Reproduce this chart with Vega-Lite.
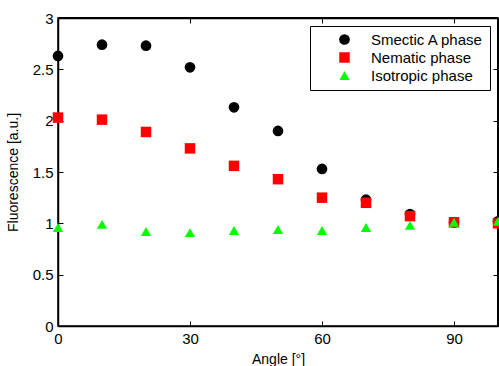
{
  "$schema": "https://vega.github.io/schema/vega-lite/v6.json",
  "width": 440,
  "height": 308,
  "autosize": {"type": "none"},
  "padding": {"left": 58, "top": 18, "right": 1, "bottom": 40},
  "background": "white",
  "config": {
    "view": {"stroke": "black", "strokeWidth": 1.5, "fill": "white"},
    "font": "Liberation Sans",
    "axis": {"grid": false, "domainColor": "black", "tickColor": "black", "labelColor": "black", "titleColor": "black", "labelFontSize": 15, "titleFontSize": 14, "titleFontWeight": "normal", "tickSize": -5, "labelPadding": 10, "labelFlush": false, "domainWidth": 1.5, "tickWidth": 1}
  },
  "data": {"values": [
    {"angle": 0, "f": 2.63, "phase": "Smectic A phase"},
    {"angle": 10, "f": 2.74, "phase": "Smectic A phase"},
    {"angle": 20, "f": 2.73, "phase": "Smectic A phase"},
    {"angle": 30, "f": 2.52, "phase": "Smectic A phase"},
    {"angle": 40, "f": 2.13, "phase": "Smectic A phase"},
    {"angle": 50, "f": 1.9, "phase": "Smectic A phase"},
    {"angle": 60, "f": 1.53, "phase": "Smectic A phase"},
    {"angle": 70, "f": 1.23, "phase": "Smectic A phase"},
    {"angle": 80, "f": 1.09, "phase": "Smectic A phase"},
    {"angle": 90, "f": 1.01, "phase": "Smectic A phase"},
    {"angle": 100, "f": 1.02, "phase": "Smectic A phase"},
    {"angle": 0, "f": 2.03, "phase": "Nematic phase"},
    {"angle": 10, "f": 2.01, "phase": "Nematic phase"},
    {"angle": 20, "f": 1.89, "phase": "Nematic phase"},
    {"angle": 30, "f": 1.73, "phase": "Nematic phase"},
    {"angle": 40, "f": 1.56, "phase": "Nematic phase"},
    {"angle": 50, "f": 1.43, "phase": "Nematic phase"},
    {"angle": 60, "f": 1.25, "phase": "Nematic phase"},
    {"angle": 70, "f": 1.2, "phase": "Nematic phase"},
    {"angle": 80, "f": 1.07, "phase": "Nematic phase"},
    {"angle": 90, "f": 1.01, "phase": "Nematic phase"},
    {"angle": 100, "f": 1.0, "phase": "Nematic phase"},
    {"angle": 0, "f": 0.96, "phase": "Isotropic phase"},
    {"angle": 10, "f": 0.99, "phase": "Isotropic phase"},
    {"angle": 20, "f": 0.92, "phase": "Isotropic phase"},
    {"angle": 30, "f": 0.91, "phase": "Isotropic phase"},
    {"angle": 40, "f": 0.93, "phase": "Isotropic phase"},
    {"angle": 50, "f": 0.94, "phase": "Isotropic phase"},
    {"angle": 60, "f": 0.93, "phase": "Isotropic phase"},
    {"angle": 70, "f": 0.96, "phase": "Isotropic phase"},
    {"angle": 80, "f": 0.98, "phase": "Isotropic phase"},
    {"angle": 90, "f": 1.01, "phase": "Isotropic phase"},
    {"angle": 100, "f": 1.02, "phase": "Isotropic phase"}
  ]},
  "resolve": {"scale": {"x": "independent", "y": "independent"}, "axis": {"x": "independent", "y": "independent"}},
  "layer": [
    {
      "mark": {"type": "point", "size": 0},
      "encoding": {
        "x": {"field": "angle", "type": "quantitative", "scale": {"domain": [0, 100], "nice": false, "zero": false}, "axis": {"orient": "top", "values": [0, 30, 60, 90], "labels": false, "title": null}},
        "y": {"field": "f", "type": "quantitative", "scale": {"domain": [0, 3], "nice": false}, "axis": {"orient": "right", "values": [0, 0.5, 1, 1.5, 2, 2.5, 3], "labels": false, "title": null}}
      }
    },
    {
      "layer": [
        {
          "mark": {"type": "rule", "color": "black", "strokeWidth": 2},
          "encoding": {
            "x": {"datum": 0, "type": "quantitative", "scale": {"domain": [0, 100], "nice": false, "zero": false}, "axis": {"orient": "bottom", "values": [0, 30, 60, 90], "format": "d", "title": "Angle [°]", "titlePadding": 6}},
            "x2": {"datum": 100},
            "y": {"datum": 3, "type": "quantitative", "scale": {"domain": [0, 3], "nice": false}, "axis": {"orient": "left", "values": [0, 0.5, 1, 1.5, 2, 2.5, 3], "format": "~g", "title": "Fluorescence [a.u.]", "titlePadding": 12}}
          }
        },
        {
          "mark": {"type": "rule", "color": "black", "strokeWidth": 2},
          "encoding": {
            "x": {"datum": 100, "type": "quantitative"},
            "y": {"datum": 0, "type": "quantitative"},
            "y2": {"datum": 3}
          }
        },
        {
          "mark": {"type": "point", "filled": true, "opacity": 1},
          "encoding": {
            "x": {"field": "angle", "type": "quantitative"},
            "y": {"field": "f", "type": "quantitative"},
            "color": {"field": "phase", "type": "nominal", "scale": {"domain": ["Smectic A phase", "Nematic phase", "Isotropic phase"], "range": ["#000000", "#ff0000", "#00ff00"]},
              "legend": {"title": null, "orient": "top-right", "offset": 8, "fillColor": "white", "strokeColor": "black", "padding": 6, "labelFontSize": 15, "labelColor": "black", "symbolOffset": 21, "labelOffset": 19, "rowPadding": 2, "symbolStrokeWidth": 0, "labelLimit": 200}},
            "shape": {"field": "phase", "type": "nominal", "scale": {"domain": ["Smectic A phase", "Nematic phase", "Isotropic phase"], "range": ["circle", "square", "triangle-up"]}},
            "size": {"field": "phase", "type": "nominal", "scale": {"domain": ["Smectic A phase", "Nematic phase", "Isotropic phase"], "range": [115, 105, 175]}}
          }
        }
      ]
    }
  ]
}
